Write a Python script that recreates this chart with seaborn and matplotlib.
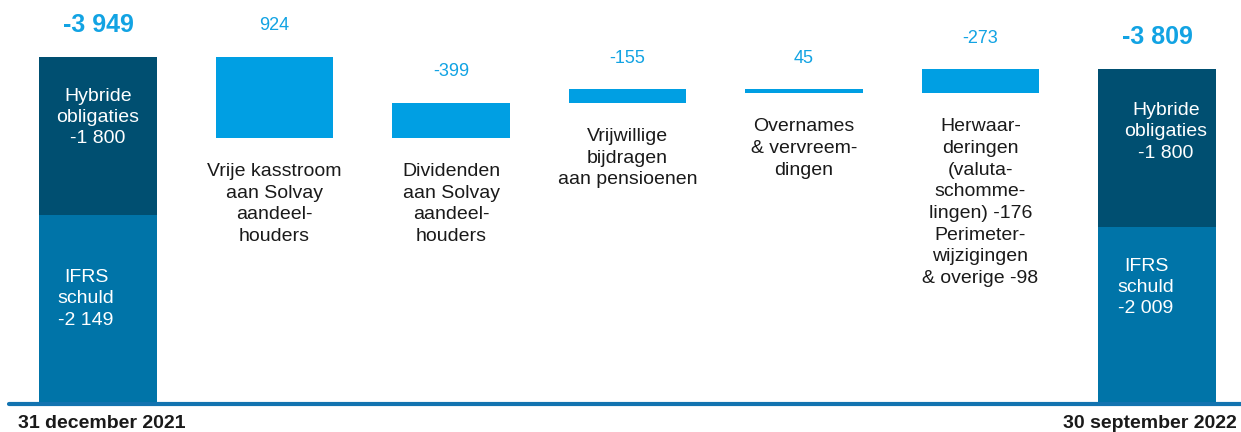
import numpy as np
import pandas as pd
import matplotlib
matplotlib.use("Agg")
import matplotlib.pyplot as plt
import seaborn as sns

sns.set_theme(style="white")
plt.rcParams['font.family'] = ['Liberation Sans', 'DejaVu Sans']

# data (EUR m, net debt bridge)
start_label = "31 december 2021"
end_label = "30 september 2022"
start_hybride = 1800
start_ifrs = 2149
end_hybride = 1800
end_ifrs = 2009
step_names = ["Vrije kasstroom\naan Solvay\naandeel-\nhouders",
              "Dividenden\naan Solvay\naandeel-\nhouders",
              "Vrijwillige\nbijdragen\naan pensioenen",
              "Overnames\n& vervreem-\ndingen",
              "Herwaar-\nderingen\n(valuta-\nschomme-\nlingen) -176\nPerimeter-\nwijzigingen\n& overige -98"]
step_values = [924, -399, -155, 45, -273]

keys = ["start", "s1", "s2", "s3", "s4", "s5", "end"]

DARK = "#004f71"
MID = "#0074a8"
LIGHT = "#009fe3"
LABEL = "#12a3e3"
LINE = "#1273b0"


def fmt(v):
    return f"{v:,}".replace(",", " ")


# waterfall levels
level = start_hybride + start_ifrs
lows, highs = [], []
for v in step_values:
    new = level - v
    lows.append(min(level, new))
    highs.append(max(level, new))
    level = new

steps = pd.DataFrame({"key": keys[1:6],
                      "height": np.array(highs) - np.array(lows),
                      "low": lows, "high": highs})
totals = pd.DataFrame({"key": ["start", "end"],
                       "total": [start_hybride + start_ifrs, end_hybride + end_ifrs],
                       "ifrs": [start_ifrs, end_ifrs]})

fig = plt.figure(figsize=(12.41, 4.32), dpi=100)
ax = fig.add_axes([0, 28 / 432, 1, 404 / 432])

bw = 0.663
sns.barplot(data=totals, x="key", y="total", order=keys, color=DARK,
            width=bw, errorbar=None, saturation=1, linewidth=0, ax=ax)
sns.barplot(data=totals, x="key", y="ifrs", order=keys, color=MID,
            width=bw, errorbar=None, saturation=1, linewidth=0, ax=ax)
sns.barplot(data=steps, x="key", y="height", order=keys, color=LIGHT,
            width=bw, errorbar=None, saturation=1, linewidth=0,
            bottom=steps["low"].values, ax=ax)

ax.set_xlim(-98 / 176.5, (1241 - 98) / 176.5)
ax.set_ylim(0, 404 / 0.08795)
ax.set_axis_off()
ax.axhline(0, xmin=9 / 1241, xmax=1, color=LINE, lw=3, clip_on=False, zorder=5)

# value labels above bars
for i, (v, hi) in enumerate(zip(step_values, highs)):
    ax.annotate(fmt(v), (i + 1, hi), xytext=(0, 31), textcoords="offset pixels",
                ha="center", va="center", fontsize=13, color=LABEL)
for i, t in [(0, -(start_hybride + start_ifrs)), (6, -(end_hybride + end_ifrs))]:
    ax.annotate(fmt(t), (i, -t), xytext=(0, 32), textcoords="offset pixels",
                ha="center", va="center", fontsize=18, fontweight="bold", color=LABEL)

# step descriptions below bars
for i, (name, lo) in enumerate(zip(step_names, lows)):
    ax.annotate(name, (i + 1, lo), xytext=(0, -25), textcoords="offset pixels",
                ha="center", va="top", fontsize=14, color="#1a1a1a", linespacing=1.36)

# labels inside total bars
ax.annotate(f"Hybride\nobligaties\n-{fmt(start_hybride)}", (0, start_ifrs + start_hybride),
            xytext=(0, -61), textcoords="offset pixels", ha="center", va="center",
            fontsize=14, color="white", linespacing=1.33)
ax.annotate(f"IFRS\nschuld\n-{fmt(start_ifrs)}", (0, start_ifrs),
            xytext=(-12, -84), textcoords="offset pixels", ha="center", va="center",
            fontsize=14, color="white", linespacing=1.33)
ax.annotate(f"Hybride\nobligaties\n-{fmt(end_hybride)}", (6, end_ifrs + end_hybride),
            xytext=(9, -63), textcoords="offset pixels", ha="center", va="center",
            fontsize=14, color="white", linespacing=1.33)
ax.annotate(f"IFRS\nschuld\n-{fmt(end_ifrs)}", (6, end_ifrs),
            xytext=(-11, -60), textcoords="offset pixels", ha="center", va="center",
            fontsize=14, color="white", linespacing=1.33)

fig.text(18 / 1241, 1 - 423 / 432, start_label, ha="left", va="center",
         fontsize=14, fontweight="bold", color="#1a1a1a")
fig.text(1237 / 1241, 1 - 423 / 432, end_label, ha="right", va="center",
         fontsize=14, fontweight="bold", color="#1a1a1a")

fig.savefig("out.png", dpi=100, facecolor="white")
